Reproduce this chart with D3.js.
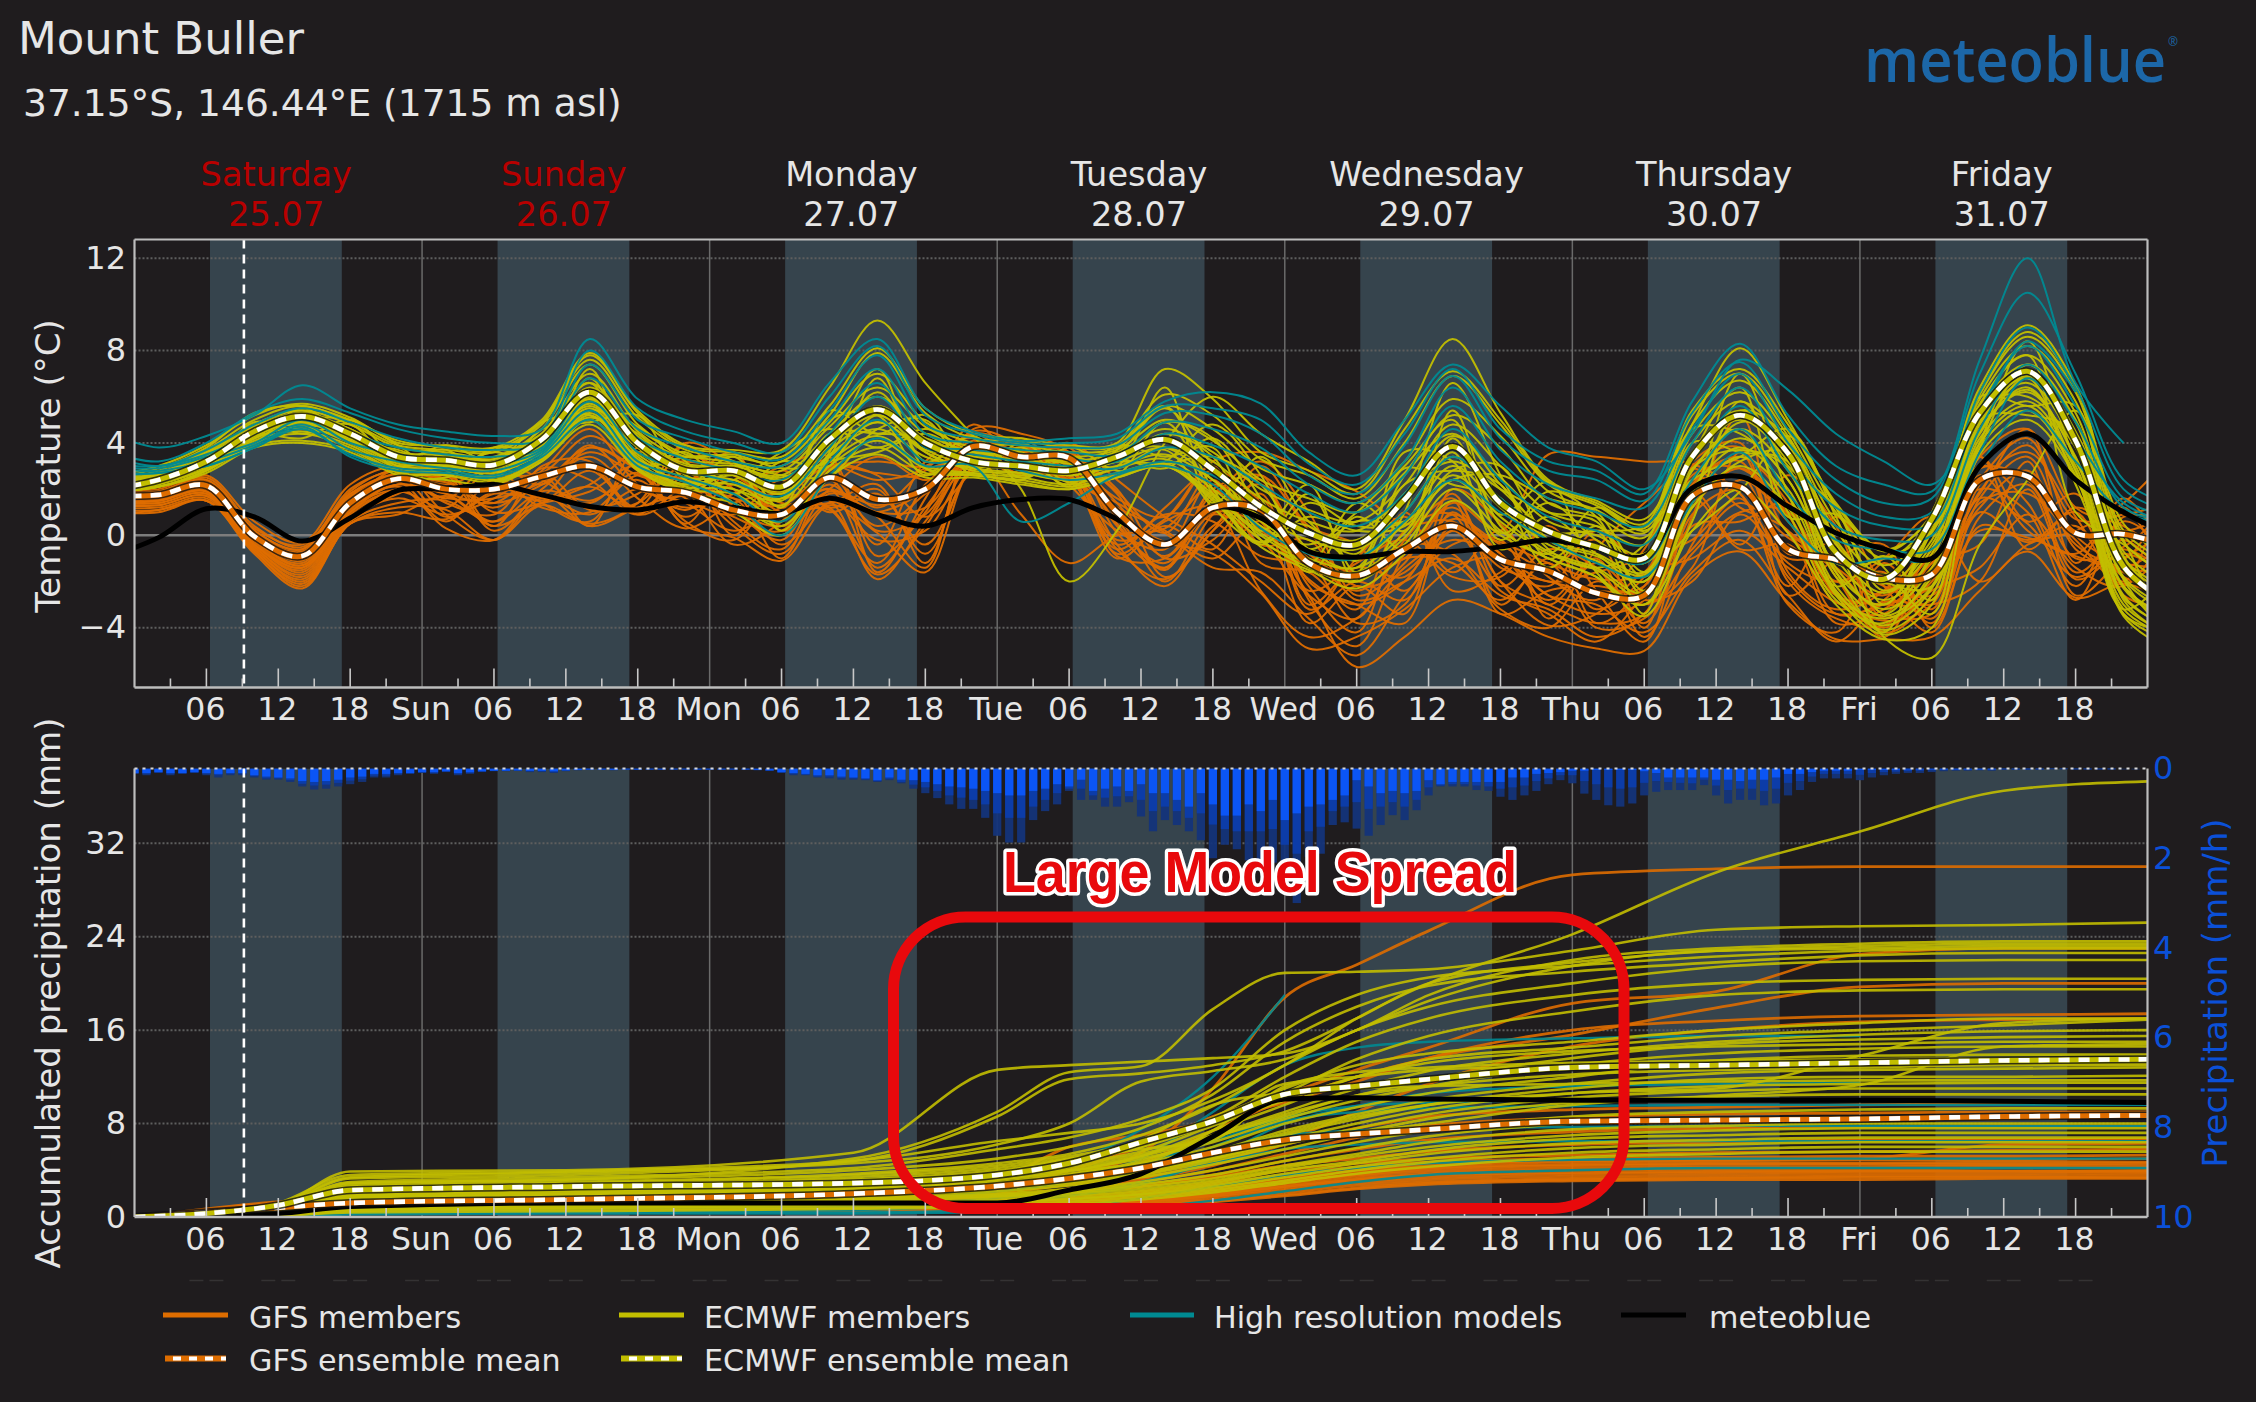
<!DOCTYPE html>
<html><head><meta charset="utf-8">
<script src="https://cdn.jsdelivr.net/npm/d3@7"></script>
<style>
html,body{margin:0;padding:0;background:#1f1c1e;}
svg{display:block;font-family:"DejaVu Sans",sans-serif;}
</style></head><body><svg id="c" width="2256" height="1402"></svg>
<script>
const tempHours=[-2,2,6,10,14,18,22,26,30,34,38,42,46,50,54,58,62,66,70,74,78,82,86,90,94,98,102,106,110,114,118,122,126,130,134,138,142,146,150,154,158,162,166,170];
const tempGfsMean=[1.7,1.75,2.15,-.05,-.9,1.4,2.45,2.0,2.0,2.55,3.0,2.1,1.85,1.1,.9,2.5,1.55,2.0,3.85,3.4,3.35,1.0,-.4,1.2,1.1,-1.2,-1.75,-.6,.4,-1.05,-1.55,-2.5,-2.6,1.7,2.1,-.6,-1.05,-1.85,-1.7,2.4,2.55,.1,.05,-.5];
const tempEcMean=[2.0,2.4,3.2,4.5,5.15,4.4,3.4,3.25,3.05,4.15,6.2,4.0,2.8,2.8,2.1,4.15,5.45,4.0,3.2,3.0,2.8,3.4,4.15,2.85,1.25,.1,-.4,1.55,3.85,1.4,.17,-.5,-1.0,3.4,5.2,3.55,-.75,-1.9,.7,5.3,7.1,4.1,-1.35,-3];
const tempMeteoblue=[-.9,-.1,1.15,.8,-.25,.75,1.95,2.0,2.2,1.75,1.25,1.1,1.45,1.2,.95,1.6,.9,.4,1.2,1.55,1.55,.7,-.4,1.2,.75,-.7,-.95,-.7,-.7,-.5,-.2,-.55,-.9,2.05,2.55,1.25,.1,-.6,-1.0,3.0,4.4,2.4,1.0,0];
const tempGfsMembers=[
[2.0,2.0,2.6,.6,-.3,2.2,3.0,2.4,1.2,2.8,4.6,2.2,1.2,1.8,3.0,3.4,-.9,1.0,4.6,4.4,3.6,.4,-1.2,1.6,3.2,1.0,-2.6,-1.2,1.8,-2.2,-.6,-1.4,-3.8,.8,5.2,-1.6,-3.2,-2.4,.6,3.4,.6,1.8,-1.0,2.2],
[1.9,1.9,2.5,.4,-.5,2.0,2.9,3.2,2.6,1.6,2.2,3.6,2.9,.6,-.6,2.8,3.2,3.0,4.4,3.2,4.0,2.4,.8,-.4,-2.0,-3.4,-1.0,.8,-1.6,.2,-3.6,-.6,1.4,2.9,1.2,.2,-3.8,-3.2,-1.4,1.8,4.6,-1.2,1.6,-1.2],
[1.9,1.8,2.4,.2,-.6,1.9,2.8,1.6,3.2,2.4,1.2,1.8,3.4,2.6,1.4,1.4,2.2,-1.2,3.8,4.0,2.6,-.6,1.2,2.8,1.4,-2.2,-4.2,.2,.9,-3.0,-1.0,-3.2,-1.8,1.9,-.4,2.6,.4,-4.2,-2.6,3.0,1.4,-2.2,.8,.6],
[1.8,1.8,2.3,.1,-.7,1.8,2.7,2.8,.4,3.0,3.2,1.0,2.2,3.6,.2,2.0,3.4,2.4,3.2,3.4,3.2,1.8,-1.8,.2,3.0,.4,-.4,-2.4,.4,-.8,-2.8,-1.0,-4.4,-.4,2.4,.6,-2.0,-1.6,-3.8,2.2,3.6,.8,-2.0,3.4],
[1.8,1.8,2.3,.1,-.8,1.7,2.6,.8,1.8,1.7,3.8,2.8,.6,-.2,2.2,3.2,-1.6,1.6,4.8,3.0,2.4,1.2,.2,-1.0,.6,-3.8,-2.2,-3.4,2.0,.5,-1.8,-2.8,-.6,3.2,4.0,-2.6,-1.0,-.4,-4.0,.8,2.2,-1.6,-.2,-2.2],
[1.7,1.7,2.2,0,-.9,1.6,2.6,2.2,2.8,1.4,.6,3.2,1.6,.9,2.4,1.0,1.8,-.4,3.0,3.8,2.9,-.2,.7,3.0,-1.2,-1.6,-3.2,1.0,-2.4,-1.6,.2,-3.8,-2.2,1.2,2.9,.9,-3.4,-2.8,.2,3.4,-.6,1.2,.2,1.0],
[1.7,1.7,2.1,-.1,-1.1,1.5,2.5,1.4,.9,2.9,2.4,.9,2.8,2.0,-1.0,2.4,-.4,3.2,4.2,2.6,3.6,1.0,-2.0,.9,2.2,-.8,-1.8,-.4,-.8,-3.2,-4.0,-2.0,-3.0,-1.4,3.6,-.8,-.4,-3.6,-2.0,1.2,2.8,-.4,-1.4,-1.6],
[1.6,1.6,2.1,-.2,-1.2,1.4,2.4,2.6,.2,2.0,3.4,1.6,.3,1.4,1.8,1.2,-1.2,2.2,3.6,3.4,3.0,-.8,.4,-.6,2.6,-2.8,-4.8,-.8,1.2,-1.2,-2.2,.2,-1.2,2.4,1.8,-3.0,-4.2,-1.2,-3.2,2.6,.2,-.8,1.2,-2.6],
[1.6,1.6,2.0,-.2,-1.3,1.3,2.3,.6,2.4,1.2,1.0,2.6,1.9,-.4,.6,3.0,2.6,.8,2.8,4.2,2.2,.2,-.6,2.4,-.4,-.2,-2.8,-2.0,-1.0,-2.6,-3.2,-4.4,-3.4,.4,.6,1.4,-1.8,-4.4,-1.2,-.4,3.2,-2.6,-1.0,.2],
[1.5,1.5,1.9,-.3,-1.4,1.2,2.2,1.8,1.4,2.6,.4,3.8,2.4,.4,-.8,1.8,.8,-1.4,4.0,3.1,3.4,2.0,-1.0,-.2,1.8,-3.0,-1.4,-1.8,.7,-.4,-1.4,-.2,-4.0,1.6,-.6,-.4,-2.6,-3.0,-2.8,1.4,1.8,-.2,-2.1,-.4],
[1.5,1.5,1.9,-.4,-1.5,1.1,2.1,.3,-.2,1.9,1.5,2.4,.8,2.2,1.0,1.1,-1.7,.4,3.3,2.8,2.5,-1.0,.6,1.2,-2.4,-4.4,-3.6,-1.4,-.2,-.9,-2.0,-1.6,-1.0,-.2,1.6,-2.2,.8,-2.2,-4.2,.4,-.2,.4,-1.8,-2.4],
[1.4,1.4,1.8,-.4,-1.6,1.0,2.0,2.0,2.2,1.5,2.8,1.2,3.9,1.2,-.2,2.6,1.2,2.8,3.4,3.6,3.8,.7,-1.5,1.9,.2,-1.0,-3.8,-3.0,1.0,-2.0,-3.9,-3.4,-1.6,-1.0,.2,-1.4,-2.9,-3.4,-.6,2.0,1.0,-2.8,.6,-.9],
[1.4,1.4,1.8,-.5,-1.7,.9,1.9,1.2,3.0,2.2,3.9,2.0,1.4,.2,1.2,1.6,-.2,.2,3.1,2.7,2.9,-.4,-2.2,.4,1.2,-2.4,-1.2,-.2,-1.8,-1.8,.4,-2.4,-4.6,.9,2.0,.2,-1.4,-2.6,-.8,2.9,2.4,-1.0,-.5,1.4],
[1.3,1.3,1.7,-.5,-1.8,.8,1.8,2.6,1.0,1.4,1.9,3.0,.5,3.0,.4,2.2,.4,1.8,3.7,3.3,2.3,1.4,.1,-1.4,-1.6,-3.6,-5.2,-2.6,-.4,-.2,-3.0,-1.2,-2.8,-2.0,.9,-1.0,-.9,-2.0,-3.6,1.6,3.4,-.6,-1.6,-3.0],
[1.3,1.3,1.7,-.6,-1.9,.7,1.6,.9,1.6,2.7,1.1,1.4,3.0,.0,2.8,1.2,2.0,-.8,2.9,3.0,3.5,.1,-1.4,2.0,2.4,-2.0,-3.0,-3.8,1.5,-3.4,-2.4,-2.2,-2.4,2.2,3.2,-2.0,-3.6,-3.9,-1.8,2.4,4.2,.0,-1.2,-1.4],
[1.2,1.2,1.6,-.6,-2.0,.6,1.4,1.5,.6,2.5,3.0,.9,1.8,1.6,-.4,1.4,1.0,2.0,4.5,3.9,2.7,-.4,.9,.6,-.9,-1.2,-2.4,-1.0,-1.2,-2.8,-1.2,-4.0,-3.6,-.8,1.0,1.0,-2.4,-4.0,-2.4,-1.4,.9,-1.4,-2.2,.5],
[1.1,1.1,1.5,-.7,-2.1,.5,1.2,1.1,-.2,1.6,.9,2.0,1.1,2.4,.8,2.0,-1.4,1.2,3.5,2.5,3.2,-.9,-1.0,1.0,.4,-2.6,-5.7,-4.4,-2.8,-3.4,-4.4,-4.9,-5.0,-1.8,-.7,-2.9,-4.5,-4.5,-4.4,-2.4,-.7,-2.7,-2.1,-2.9],
[1.0,1.0,1.5,-.7,-2.2,.5,1.0,.7,1.9,1.8,1.4,2.7,.4,-.1,-1.1,1.3,.1,-1.6,3.0,3.5,2.8,.9,-.3,-.8,-2.5,-4.9,-4.4,-3.2,-1.4,-1.0,-2.6,-3.0,-4.2,-1.6,-.2,-2.6,-4.6,-2.9,-3.0,-2.0,2.0,-1.9,-.8,-1.8],
[.9,1.1,1.5,-.8,-2.3,.5,.9,1.7,.4,1.4,2.1,1.1,2.5,1.0,1.6,1.5,-1.9,.6,3.2,2.9,2.4,-.6,-1.9,.2,1.6,-3.2,-2.0,-2.8,.2,-2.4,-3.4,-4.6,-2.6,-.6,1.4,-.1,-1.5,-3.4,-3.4,1.0,-.3,1.0,-2.6,-3.2],
[1.6,1.6,2.0,-.1,-1.0,1.4,2.8,.9,-.2,1.3,.5,1.4,4.0,3.0,1.2,2.0,1.0,1.2,3.4,.9,-1.2,0,.3,2.2,1.0,-.8,-1.6,-1.0,1.4,.2,3.5,3.4,3.2,3.1,1.8,-1.2,-2.0,-1.0,.8,-2.0,-.4,.2,1.4,3.5],
[1.5,1.6,2.1,-.2,-1.3,1.2,2.0,1.8,.6,1.8,.4,1.2,1.7,1.0,.4,1.9,1.3,1.9,3.7,3.2,3.1,1.6,.8,3.2,3.6,2.8,1.9,.5,.6,-1.4,-2.0,-2.4,-2.2,2.6,2.9,.9,-2.6,-3.7,-3.0,1.6,.5,-1.8,-.6,-1.8],
[1.7,1.8,2.3,.2,-.6,1.7,2.4,2.3,1.4,2.2,3.6,2.6,2.0,.8,.2,2.9,2.7,2.6,4.1,3.6,3.3,1.4,-.9,1.8,2.6,.2,-2.2,-1.6,.2,-.3,-1.2,-1.9,-1.6,3.0,3.8,.1,-1.0,-2.2,-2.6,.2,-.1,-.9,-1.4,-.2],
[1.4,1.5,1.9,-.4,-1.4,1.0,2.2,1.6,1.6,2.3,3.8,2.9,2.4,1.6,1.3,2.6,.2,.9,3.6,3.3,3.4,.5,-1.4,.9,-.2,-2.6,-3.6,-.2,1.6,-2.0,-3.0,-3.8,-3.4,1.4,2.6,-1.8,-3.4,-3.0,-2.2,1.9,3.9,.7,.9,1.4],
[1.8,1.9,2.4,.3,-.4,1.8,2.6,2.5,2.6,2.7,4.3,3.1,3.2,2.8,1.8,3.0,2.4,2.9,4.4,3.9,3.6,1.9,.1,2.7,.6,-1.9,-3.0,-2.0,.9,-.8,-2.6,-3.4,-2.8,2.2,3.4,1.4,-2.9,-2.4,-1.2,3.4,4.6,1.2,.4,-1.0]
];
const tempEcMembers=[
[2.6,3.0,3.9,5.2,5.7,5.1,4.0,3.9,3.8,5.0,7.9,5.4,3.9,3.7,3.7,6.4,9.3,6.6,4.3,2.0,-2.0,.2,4.0,6.0,4.4,3.2,2.0,5.0,8.5,5.3,2.4,1.5,.7,4.8,8.1,5.0,1.4,-.6,.8,6.4,9.1,6.5,.5,-1.0],
[2.5,2.9,3.8,5.3,5.6,5.0,4.1,3.8,3.7,4.9,7.8,5.3,3.8,3.6,3.4,5.6,8.1,5.5,4.4,4.2,3.9,4.0,7.2,5.9,3.6,2.8,1.8,4.6,7.1,5.0,2.3,1.4,.5,5.4,7.2,4.8,1.3,-.7,.9,6.2,8.8,6.4,.2,-1.2],
[2.4,2.8,3.7,5.0,5.6,4.9,3.9,3.7,3.6,4.8,7.6,5.1,3.7,3.4,3.2,5.2,7.9,5.3,4.2,4.1,3.8,3.9,6.1,5.2,3.3,2.6,1.6,4.0,6.9,4.8,2.2,1.3,.3,5.2,7.0,4.5,1.0,-1.0,.7,6.1,8.6,6.2,0,-1.4],
[2.4,2.7,3.5,4.8,5.4,4.4,3.2,3.9,3.2,4.9,5.2,3.4,2.2,3.4,1.2,5.4,4.4,5.2,2.9,3.8,2.3,3.7,5.6,2.0,-.3,1.8,-1.6,3.6,3.2,-.2,1.9,.8,-2.6,1.4,7.0,1.8,-2.2,-.9,-2.8,6.0,5.6,5.6,-2.8,-4.4],
[2.3,2.7,3.6,4.8,5.4,4.8,3.8,3.6,3.4,4.6,7.4,4.8,3.5,3.2,3.0,4.9,7.0,4.9,4.0,3.9,3.6,3.8,5.6,4.6,2.9,2.2,1.4,3.2,5.9,4.3,1.9,1.1,.1,4.8,6.7,4.3,.6,-1.3,.4,5.9,8.2,5.8,-.3,-1.8],
[2.1,2.5,3.6,4.2,5.0,5.0,3.9,2.6,3.7,3.5,7.2,3.0,3.6,1.8,3.2,3.0,6.8,3.2,4.3,2.5,3.8,2.8,3.2,4.8,2.6,-1.2,1.4,.2,5.4,.4,-.8,1.2,.2,2.4,3.4,4.6,.8,-3.4,-.8,4.0,8.4,3.2,-.2,-4.8],
[2.2,2.6,3.4,4.7,5.3,4.6,3.6,3.5,3.3,4.4,7.0,4.5,3.3,3.1,2.8,4.7,6.4,4.7,3.8,3.7,3.4,3.7,5.0,4.1,2.4,1.6,1.0,2.7,5.2,3.8,1.4,.8,-.1,4.4,6.2,4.1,.2,-1.7,.1,5.7,7.8,5.3,-.7,-2.2],
[2.3,2.6,3.0,4.9,4.4,4.8,3.0,3.5,2.5,4.6,4.9,5.2,2.4,2.4,3.6,4.6,3.8,4.6,3.6,3.4,2.2,3.9,3.4,3.8,.2,2.2,-2.0,1.0,6.6,2.6,-.6,-1.4,-.4,4.6,4.4,2.4,-1.6,-4.2,1.0,4.6,6.4,2.8,-3.2,-1.6],
[2.1,2.5,3.3,4.6,5.2,4.5,3.5,3.4,3.2,4.3,6.6,4.3,3.1,3.0,2.6,4.4,6.0,4.4,3.6,3.5,3.2,3.6,4.6,3.6,2.0,1.1,.6,2.2,4.8,3.0,1.0,.4,-.4,4.0,5.8,3.9,-.2,-2.1,-.2,5.5,7.4,4.9,-1.1,-2.6],
[2.0,2.2,3.4,4.0,5.5,4.1,3.7,3.0,3.6,3.3,5.8,4.6,3.2,1.4,.6,3.6,7.2,2.9,2.7,2.4,3.4,3.0,6.4,1.4,3.4,.6,-.8,2.9,2.2,1.6,-1.4,.4,-1.8,3.4,6.4,.8,.9,-1.4,-3.4,5.6,7.8,1.0,-.4,-2.0],
[2.0,2.4,3.2,4.5,5.1,4.4,3.4,3.2,3.0,4.1,6.2,4.0,2.9,2.8,2.2,4.1,5.6,4.2,3.4,3.3,3.0,3.4,4.2,3.2,1.6,.6,.2,1.8,4.3,2.5,.6,0,-.8,3.6,5.4,3.6,-.6,-2.5,-.6,5.3,7.1,4.5,-1.5,-3.0],
[1.9,2.3,2.9,4.7,4.8,4.6,2.8,2.5,3.8,3.8,6.8,2.9,2.0,3.0,2.6,2.6,4.6,5.0,2.6,4.0,2.6,3.3,2.9,4.2,1.6,-1.6,.8,-.6,4.2,.9,2.3,-1.6,-3.0,.6,5.8,3.0,1.2,-3.0,.4,5.0,5.2,4.4,-3.4,-4.2],
[2.0,2.3,3.1,4.4,5.0,4.3,3.3,3.1,2.9,3.9,5.9,3.8,2.7,2.6,1.8,3.9,5.2,3.9,3.2,3.1,2.8,3.2,3.8,2.8,1.2,.2,-.2,1.4,3.8,2.0,.2,-.4,-1.2,3.2,5.0,3.2,-1.0,-2.8,-1.0,5.1,6.8,4.2,-1.9,-3.4],
[2.2,2.4,3.7,4.4,4.2,5.0,3.4,3.7,2.4,3.4,5.4,4.4,2.6,2.0,1.6,5.0,5.2,2.6,3.9,2.9,2.4,2.6,4.9,1.8,-.4,1.4,.4,.6,3.6,-.6,.8,-.8,-2.0,2.8,4.6,1.0,-2.8,-3.8,-1.6,3.8,7.4,5.0,-1.0,-2.4],
[1.9,2.3,3.0,4.3,4.9,4.1,3.1,3.0,2.8,3.7,5.7,3.5,2.5,2.4,1.6,3.7,4.9,3.7,3.0,2.9,2.6,3.0,3.5,2.4,.8,-.2,-.6,1.0,3.4,1.6,-.2,-.8,-1.6,2.8,4.6,2.8,-1.4,-3.2,-1.4,4.9,6.6,3.8,-2.3,-3.8],
[2.0,2.4,3.0,4.2,5.3,4.2,3.6,2.9,2.6,4.4,6.6,3.0,3.4,3.2,.2,3.4,6.2,3.6,2.9,2.6,3.0,3.2,3.1,3.4,2.2,-.6,-1.4,2.2,2.8,2.2,-1.0,.2,-3.4,4.0,3.6,3.2,-1.2,-1.0,.2,4.4,6.8,2.2,-2.2,-3.8],
[1.9,2.2,2.9,4.2,4.7,4.0,3.0,2.9,2.7,3.6,5.5,3.3,2.3,2.2,1.3,3.5,4.6,3.4,2.9,2.7,2.4,2.9,3.3,2.0,.4,-.6,-1.0,.5,3.0,1.2,-.4,-1.1,-2.0,2.4,4.2,2.4,-1.8,-3.5,-1.8,4.6,6.2,3.4,-2.6,-4.1],
[2.2,2.6,3.4,4.6,4.6,4.2,3.3,3.4,3.0,3.6,5.1,3.8,1.9,2.8,2.4,3.2,3.6,4.4,3.4,3.6,2.1,3.5,3.8,2.4,.6,-.4,1.0,3.0,5.0,.1,1.4,-.2,-1.2,1.8,5.4,4.2,-.4,-2.0,-2.2,5.6,6.0,3.8,-1.8,-3.2],
[1.9,2.1,2.8,4.1,4.5,3.9,2.9,2.7,2.5,3.4,5.3,3.1,2.1,2.0,1.0,3.2,4.3,3.0,2.7,2.5,2.2,2.7,3.1,1.8,.1,-1.0,-1.4,.1,2.6,.8,-.7,-1.4,-2.5,2.0,3.8,2.0,-2.2,-3.9,-2.3,4.2,5.8,3.0,-3.0,-4.3],
[1.9,2.1,2.8,4.0,4.4,3.8,2.8,2.7,2.4,3.3,5.2,3.0,2.0,1.8,.8,3.0,4.1,2.9,2.6,2.4,2.1,2.6,3.0,1.7,0,-1.2,-1.6,-.1,2.4,.6,-.8,-1.5,-2.7,1.6,3.4,1.7,-2.4,-4.1,-2.6,4.0,5.6,2.8,-3.2,-4.4],
[1.9,2.1,2.8,3.9,4.1,3.7,2.7,2.6,2.3,3.2,5.0,2.9,1.9,1.4,.4,2.8,3.8,2.7,2.6,2.3,2.0,2.5,3.0,1.6,-.2,-1.4,-2.0,-.4,2.0,.2,-1.0,-1.8,-3.0,1.2,3.0,1.2,-2.6,-4.3,-3.0,3.8,5.4,2.6,-3.4,-4.6],
[1.9,2.1,2.7,3.8,4.0,3.6,2.6,2.4,2.2,3.2,4.8,2.8,1.8,1.0,0,2.5,3.5,2.5,2.5,2.2,2.0,2.5,3.0,1.5,-.5,-1.5,-2.3,-.8,1.5,0,-1.0,-1.8,-3.5,.2,2.0,.1,-3.0,-4.5,-4.0,3.5,5.0,2.5,-3.5,-5.0],
[2.0,2.3,2.9,4.4,4.8,4.3,3.2,3.1,2.8,3.8,5.6,3.6,2.7,2.4,1.5,4.4,4.4,4.2,3.3,3.1,2.9,3.2,4.4,3.4,-.2,-1.2,-1.9,1.8,3.2,2.0,1.0,.6,-2.4,1.2,3.2,3.6,-.3,-4.4,-5.3,-.4,2.4,5.4,-1.9,-4.4],
[2.2,2.6,3.3,4.6,5.2,4.6,3.5,3.4,3.3,4.4,5.9,4.7,3.4,3.5,2.9,3.2,5.2,3.7,3.6,3.5,3.1,3.3,4.9,4.2,1.1,-.6,.6,.6,2.4,2.6,1.6,1.0,-1.6,.2,1.9,4.3,1.2,-2.4,-.4,4.8,6.9,4.4,-.9,-3.4],
[2.1,2.5,3.2,4.5,5.0,4.2,3.3,3.1,2.9,4.0,6.4,4.2,3.0,3.0,2.5,3.9,5.5,4.2,3.1,2.9,2.7,3.5,5.5,3.0,.7,.4,-1.1,2.6,4.4,2.2,.2,.2,.4,2.4,4.9,3.9,-1.6,-3.0,.2,5.2,7.2,3.9,-2.2,-3.6],
[2.0,2.4,3.1,4.3,4.9,4.1,3.2,3.0,2.8,3.6,6.0,3.2,2.2,2.6,1.9,3.4,4.9,3.6,2.8,2.7,2.4,2.9,3.7,1.2,-.3,.8,.2,.4,2.8,3.0,-.2,-.9,-1.7,2.9,3.7,2.9,-2.5,-3.6,-2.2,4.5,6.3,3.3,-2.7,-4.0]
];
const tempHiresMembers=[
[4.4,3.8,4.3,5.2,6.5,5.5,4.8,4.5,4.3,4.6,8.5,5.9,5.0,4.5,4.0,6.6,8.5,5.5,4.5,4.1,4.2,4.4,5.8,6.2,5.7,3.6,2.6,5.0,7.4,5.6,3.8,3.2,2.0,4.4,7.6,6.3,4.4,3.2,2.2,5.2,8.4,6.2,null,null],
[3.6,3.2,4.0,5.3,5.9,5.3,4.6,4.2,4.0,4.2,8.0,5.5,4.5,4.0,3.6,6.0,8.2,5.2,4.4,4.0,4.0,4.2,5.6,5.5,5.0,3.1,2.2,4.4,7.2,4.6,3.2,2.8,1.8,5.8,8.3,5.2,3.0,2.2,1.9,7.6,12,6.6,4.0,null],
[3.4,3.0,3.7,4.8,5.5,4.9,4.2,3.8,3.7,4.0,7.4,5.0,4.2,3.6,3.3,5.4,7.8,4.8,4.2,3.9,3.8,3.9,5.3,5.2,4.4,2.6,1.8,3.9,6.9,4.2,2.8,2.4,1.5,5.3,7.5,4.6,2.4,1.4,1.6,7.0,10.5,7.0,2.4,1.3],
[3.1,3.0,3.5,4.4,5.2,4.4,3.8,3.5,3.4,3.8,6.8,4.6,3.8,3.2,3.0,5.0,7.2,4.4,4.0,3.7,3.6,3.5,4.9,4.6,3.8,2.2,1.4,3.2,6.4,3.7,2.2,1.6,1.2,4.6,7.0,4.0,1.8,.8,1.0,6.2,9.0,6.4,2.0,1.0],
[3.0,2.9,3.4,4.0,5.0,4.0,3.5,3.2,3.1,3.7,6.2,4.2,3.3,2.8,2.4,4.4,6.6,4.0,3.7,3.5,3.3,3.2,4.4,3.9,3.0,1.8,1.0,2.6,5.6,3.2,1.6,1.0,.4,4.0,6.4,3.4,1.2,.4,.5,5.4,8.2,5.6,1.6,.8],
[2.9,2.8,3.2,3.9,4.8,3.7,3.2,2.9,2.8,3.6,5.8,3.6,2.8,2.3,1.7,3.8,6.0,3.8,3.5,3.2,3.0,2.9,3.8,3.4,2.2,1.0,.4,1.8,4.6,2.4,.8,.2,-.4,3.2,5.6,2.8,.4,-.2,0,4.6,7.4,4.9,1.2,.6],
[2.7,2.7,3.0,3.8,4.6,3.5,2.9,2.8,2.6,3.5,5.4,3.2,2.5,1.8,.6,3.2,5.0,3.2,3.3,2.8,2.4,2.7,3.2,2.6,1.2,.2,-.4,1.0,3.4,1.6,.1,-.6,-1.2,2.4,4.6,1.8,-.2,-.6,-.6,3.6,6.8,4.2,1.4,.5],
[2.6,2.7,3.0,3.8,4.7,3.4,2.8,2.7,2.5,3.4,5.0,3.0,2.3,1.4,0,2.6,4.2,3.0,3.0,.6,1.4,2.6,3.0,2.2,.3,-.8,-1.0,.6,2.4,1.0,-.2,-1.2,-1.8,1.4,3.6,.6,-1.2,-1.0,-1.0,3.0,5.4,3.2,1.0,.5]
];
const precipHours=[0,6,12,18,36,60,72,78,84,90,96,102,108,120,132,144,156,168];
const precipGfsMean=[0,.4,.8,1.2,1.5,2,2.65,3.3,4.2,5.5,6.6,7.1,7.5,8.2,8.3,8.4,8.6,8.7];
const precipEcMean=[0,.3,1,2.3,2.6,2.9,3.6,4.6,6.4,8.2,10.5,11.2,11.8,12.8,13,13.2,13.4,13.5];
const precipMeteoblue=[0,.1,.3,.9,1.2,1.2,1.2,2.3,3.7,6.9,10.1,10.2,10.1,10,10,10,9.9,9.8];
const precipEcMembers=[
[0,.3,1.2,3.6,3.9,4.8,6.5,7.2,8,10,13,17,20,24.2,29.5,33,36.5,37.3],
[0,.3,1,2.9,3.2,5,9,12.4,12.9,17.8,20.9,21,21.2,22.8,24.6,24.9,25,25.2],
[0,.3,1,3.9,4,5.5,12.6,13,13.3,13.6,14,16,19,22,23,23.4,23.6,23.6],
[0,.2,.9,3.3,3.6,4.8,8.6,11.8,12.3,13,14.2,17,20,21.8,22.8,23.2,23.4,23.4],
[0,.2,1,3.4,3.8,4.6,6.2,8,11.6,12.5,13.5,16,18.5,21.5,22.8,23,23.2,23.2],
[0,.2,.9,3,3.4,4.2,5.8,6.8,8.4,11,16,19,20.5,21.5,22.3,22.8,23,23],
[0,.2,.8,2.8,3.2,4,5,6,7.6,10.5,15,18,19.8,21,21.8,22.4,22.6,22.6],
[0,.2,.8,2.6,3,3.7,4.6,5.4,7,9.5,13,16,18,20,21.4,21.9,22,22],
[0,.2,.7,2.6,2.9,3.6,4.4,5.2,6.4,8.5,12,15,17,19,20,20.3,20.4,20.4],
[0,.2,.7,2.4,2.7,3.4,4.2,5,6,8,10.6,13.5,15.5,17.6,19,19.4,19.5,19.5],
[0,.1,.6,2.3,2.6,3.2,4,4.8,6,8.4,11,13,14,15,16,16.6,17,17],
[0,.1,.6,2.2,2.5,3.1,3.8,4.6,5.6,7.8,10,12,13.5,14.5,15.5,16,16.4,16.9],
[0,.1,.6,2.1,2.4,2.9,3.6,4.4,5.4,7,9,11,12.5,14,15,15.6,15.9,16],
[0,.1,.5,2,2.3,2.8,3.4,4.2,5.2,6.8,8.8,10.4,11.8,13.6,14.8,15.2,15.4,15.5],
[0,.1,.5,1.9,2.2,2.6,3.2,4,5,6.4,8.4,10,11.2,13,14,14.4,14.6,14.6],
[0,.1,.5,1.8,2,2.5,3,3.7,4.6,6,8,9.4,10.6,12,13.4,13.8,13.9,13.9],
[0,.1,.5,1.7,1.9,2.4,2.9,3.4,4.4,5.6,7.4,8.8,10,11.4,12.3,12.6,12.7,12.8],
[0,.1,.4,1.6,1.8,2.2,2.7,3.2,4,5.2,7,8.4,9.6,11,11.8,12,12,12.1],
[0,.1,.4,1.5,1.7,2.1,2.5,3,3.8,5,6.6,8,9.2,10.6,11.2,11.4,11.5,11.5],
[0,.1,.4,1.4,1.6,2,2.4,2.9,3.6,4.8,6.2,7.6,8.8,10.2,10.8,11,11,11],
[0,.1,.3,1.3,1.5,1.9,2.2,2.7,3.4,4.5,5.8,7.2,8.4,9.8,10.3,10.5,10.5,10.5],
[0,.1,.3,1.2,1.4,1.7,2,2.4,3,4,5.2,6.4,7.4,8.6,9,9.2,9.3,9.3],
[0,.1,.3,1.1,1.3,1.6,1.9,2.2,2.8,3.6,4.8,5.9,6.9,8,8.4,8.5,8.6,8.6],
[0,.1,.3,1,1.2,1.5,1.8,2.1,2.6,3.3,4.4,5.4,6.4,7.5,7.8,8,8,8],
[0,.1,.2,.9,1.1,1.4,1.7,2,2.4,3.1,4.2,5.2,6,7,7.4,7.6,7.6,7.6],
[0,0,.2,.8,1,1.2,1.5,1.8,2.2,2.9,4,4.8,5.7,6.7,7,7.2,7.2,7.2],
[0,0,.2,.7,.9,1.1,1.3,1.6,2,2.7,3.7,4.6,5.4,6.3,6.6,6.8,6.8,6.8],
[0,0,.2,.6,.8,1,1.2,1.5,1.9,2.5,3.4,4.3,5,5.9,6.2,6.4,6.4,6.4],
[0,0,.1,.5,.7,.8,1,1.3,1.7,2.3,3.1,4,4.7,5.5,5.8,6,6,6],
[0,0,.1,.4,.5,.7,.9,1.1,1.5,2.1,2.9,3.7,4.3,5.1,5.4,5.6,5.6,5.6],
[0,.1,.5,1.8,2,2.4,2.8,3.4,4.2,5.4,7.2,8.6,9.6,10.6,11,13.8,16.6,17],
[0,.1,.4,1.4,1.7,2.1,2.5,3.1,4,5,6.4,7.2,8,9.6,10.4,11.3,14.6,14.8],
[0,.2,.6,2,2.3,2.7,3.2,3.9,5.2,7.4,9.6,12,13.2,14.2,14.6,14.8,15,15],
[0,.1,.4,1.6,1.9,2.3,2.8,3.6,4.8,6.8,8.6,10.4,11.2,12.2,12.6,12.8,13,13],
[0,.2,.7,2.5,2.8,3.2,3.6,4,4.6,7.4,11.4,12,12.6,12.9,13,13.2,13.2,13.2],
[0,.1,.6,2.2,2.4,2.8,3.4,4.4,6.6,9.6,10.6,11,11.2,11.4,11.6,11.7,11.7,11.7],
[0,.1,.5,1.9,2.2,2.6,3.8,5,5.8,6.6,11.2,12.4,12.8,13.2,13.4,13.5,13.6,13.6]
];
const precipGfsMembers=[
[0,.6,1.2,1.4,1.5,2,2.8,3.6,5.5,11,18.8,21.6,24.5,29.3,29.8,30,30,30],
[0,.5,1.1,1.3,1.4,1.9,2.6,4,6,8.6,10.5,12.6,14.5,18.3,19.3,22.5,23,23],
[0,.7,1.3,1.5,1.6,2,2.4,3.3,4.6,7.4,10,12,13.6,15.6,17.9,19.7,20,20],
[0,.5,1,1.2,1.3,1.6,3.2,6,7,8.2,9.8,11.6,13.6,16,16.8,17.2,17.3,17.4],
[0,.4,.9,1.1,1.2,1.5,2,2.8,3.4,4.6,6.5,9,11.4,14.6,16,16.7,16.9,17],
[0,.4,.8,1,1.2,1.4,1.8,2.4,3.2,4.4,6.2,7.6,8.6,9.2,9.4,9.6,9.7,9.8],
[0,.4,.8,1,1.1,1.3,1.7,2.2,3,4,5.4,6.8,7.8,8.5,8.8,8.9,9,9],
[0,.3,.7,.9,1,1.2,1.5,2,2.7,3.6,4.8,5.8,6.6,7.3,7.6,7.7,7.8,7.8],
[0,.3,.6,.8,.9,1,1.3,1.7,2.2,3,4,4.6,5,5.3,5.5,5.6,5.7,5.8],
[0,.3,.6,.8,.9,1,1.2,1.5,2,2.7,3.6,4.3,4.7,5,5.1,5.2,5.2,5.3],
[0,.2,.5,.7,.8,.9,1.1,1.4,1.9,2.5,3.3,4,4.4,4.7,4.8,4.9,4.9,5],
[0,.2,.5,.7,.8,.9,1,1.3,1.8,2.4,3.1,3.8,4.2,4.5,4.6,4.6,4.7,4.7],
[0,.2,.4,.6,.7,.8,.9,1.2,1.6,2.2,2.9,3.5,3.9,4.2,4.3,4.3,4.4,4.4],
[0,.2,.4,.5,.6,.7,.8,1,1.4,2,2.7,3.3,3.7,4,4.1,4.1,4.2,4.2],
[0,.1,.3,.5,.6,.7,.8,1,1.3,1.8,2.5,3.1,3.4,3.7,3.8,3.9,3.9,4],
[0,.1,.3,.4,.5,.6,.7,.9,1.2,1.7,2.3,2.9,3.2,3.5,3.6,3.7,3.7,3.8],
[0,.1,.2,.4,.5,.6,.7,.9,1.1,1.5,2.1,2.7,3,3.3,3.4,3.5,3.5,3.6],
[0,.1,.2,.3,.4,.5,.6,.8,1,1.4,1.9,2.5,2.9,3.2,3.3,3.4,3.4,3.4],
[0,.1,.2,.3,.4,.5,.6,.7,.9,1.3,1.8,2.4,2.8,3.1,3.2,3.2,3.3,3.3],
[0,.3,.6,.9,1,1.2,1.6,2.4,3.6,5,6.4,7.2,7.8,8,8.2,8.3,8.4,8.6],
[0,.2,.5,.8,.9,1.1,1.4,2,2.6,3.4,4.4,5,5.6,6.2,6.4,6.6,6.6,6.7],
[0,.2,.4,.7,.8,.9,1,1.4,2,2.8,3.6,4.2,4.6,4.8,4.9,5,6.2,6.3],
[0,.2,.4,.6,.7,.8,.9,1.2,1.6,2.2,3,3.6,4.1,4.4,4.5,4.5,4.5,4.6],
[0,.1,.3,.5,.6,.7,.8,1,1.3,1.9,2.6,3.2,3.6,3.8,3.9,3.9,3.9,3.9]
];
const precipHiresMembers=[
[0,.1,.3,1.4,1.6,1.9,2.6,3.2,5,9,13,14.5,15,15.3,15.5,15.5,null,null],
[0,.1,.2,.9,1,1.3,2.2,3,4.5,6.5,8.5,9.5,9.8,10,10,10,null,null],
[0,0,.3,1,1.4,1.8,3.2,4.6,7.5,12,19,null,null,null,null,null,null,null],
[0,0,.1,.3,.4,.6,1.2,2,3.6,6,8.2,9,9.3,9.5,9.6,9.6,9.6,9.6],
[0,.1,.2,.7,.9,1.1,1.6,2.4,3.8,5.6,7,7.4,7.6,7.7,7.8,7.8,7.8,7.8],
[0,0,.1,.5,.7,.9,1.3,1.8,3,4.6,5.8,6.2,6.4,6.5,6.5,6.5,6.5,6.5],
[0,0,.1,.3,.4,.4,.6,.9,1.6,2.6,3.6,4.2,4.6,4.9,5,5,5,5],
[0,0,0,.2,.3,.3,.4,.5,.8,1.4,2.2,3,3.6,4,4.2,4.2,4.2,4.2],
[0,0,.1,.6,.8,1,1.3,1.8,2.8,5,8,9.5,10.6,11.2,11.4,11.5,null,null]
];
const rainBright=[.1,.1,.08,.1,.1,.08,.1,.12,.1,.1,.15,.18,.2,.22,.28,.3,.28,.25,.2,.18,.12,.12,.1,.1,.08,.08,.06,.1,.08,.06,.05,.05,.04,.05,.05,.06,.04,.03,.02,.02,.03,.02,.02,.02,.02,.02,.02,.02,.02,.02,.02,.02,.03,.04,.08,.1,.12,.15,.15,.18,.2,.22,.26,.2,.25,.26,.3,.35,.4,.42,.45,.5,.55,.6,.6,.5,.45,.35,.4,.25,.5,.45,.4,.5,.35,.55,.55,.7,.85,.55,.8,1.05,1.05,.8,.95,.7,1.15,1,.85,.8,.7,.6,.26,.4,.55,.5,.55,.5,.26,.35,.3,.3,.3,.3,.3,.2,.2,.12,.1,.08,.05,.05,.03,.03,.03,.03,.06,.1,.2,.2,.2,.2,.25,.25,.28,.25,.25,.2,.12,.12,.08,.05,.05,.05,.03,.03,.03,.03,.02,.02,.02,.02,.02,.02,.02,.02,.01,.01,.01,.01,.01,.01,.01,.01,.01,.01];
const rainMiddle=[.11,.12,.09,.12,.11,.09,.12,.15,.12,.12,.17,.22,.22,.26,.34,.38,.36,.32,.27,.24,.16,.16,.12,.11,.09,.1,.07,.12,.1,.07,.05,.05,.05,.06,.06,.08,.05,.03,.03,.03,.03,.02,.03,.02,.02,.02,.02,.02,.02,.02,.02,.02,.03,.05,.09,.12,.14,.18,.18,.21,.22,.24,.28,.23,.3,.36,.42,.5,.6,.65,.7,.8,1,1.1,1.1,.85,.7,.55,.45,.45,.6,.65,.62,.62,.7,.95,.85,.95,1.1,1.0,1.25,1.35,1.4,1.4,1.4,1.35,1.7,1.9,1.4,1.3,.95,.85,.75,.9,.85,.75,.85,.7,.42,.38,.35,.35,.38,.4,.45,.42,.38,.28,.22,.15,.15,.28,.35,.42,.45,.42,.32,.28,.3,.32,.33,.25,.38,.48,.45,.45,.5,.45,.32,.28,.18,.12,.12,.12,.14,.1,.08,.07,.06,.05,.04,.03,.03,.03,.02,.03,.02,.02,.02,.02,.01,.01,.02,.02,.01,.01];
const rainTotal=[.12,.15,.1,.15,.12,.1,.15,.2,.15,.15,.2,.25,.25,.3,.4,.47,.45,.4,.35,.3,.2,.2,.15,.12,.1,.12,.08,.15,.12,.08,.06,.06,.05,.08,.08,.1,.06,.04,.03,.03,.04,.02,.03,.02,.03,.02,.02,.02,.03,.03,.02,.03,.04,.05,.1,.15,.15,.2,.22,.25,.25,.26,.3,.26,.33,.45,.55,.66,.8,.9,.9,1.1,1.5,1.65,1.65,1.15,.95,.8,.5,.7,.7,.85,.85,.75,1.07,1.4,1.15,1.26,1.4,1.6,2,1.7,1.8,2.05,2.05,2.1,2.4,3,1.97,1.9,1.26,1.2,1.34,1.5,1.26,1.04,1.15,.93,.6,.4,.4,.4,.48,.5,.63,.7,.6,.5,.35,.26,.33,.56,.7,.82,.85,.78,.6,.52,.48,.48,.48,.37,.6,.78,.7,.7,.82,.78,.6,.48,.3,.22,.22,.22,.26,.2,.15,.12,.1,.1,.08,.06,.05,.05,.04,.05,.03,.03,.03,.03,.02,.02,.02,.02,.03,.03,.02,.02];
const dayNames=["Saturday","Sunday","Monday","Tuesday","Wednesday","Thursday","Friday"];
const dayDates=["25.07","26.07","27.07","28.07","29.07","30.07","31.07"];
const dayShort=["Sat","Sun","Mon","Tue","Wed","Thu","Fri"];
const tempTicks=[-4,0,4,8,12];
const precipTicks=[0,8,16,24,32];
const rainTicks=[0,2,4,6,8,10];
const legendEntries=[["GFS members",0,0,"gfs"],["GFS ensemble mean",0,1,"gfsMean"],["ECMWF members",1,0,"ec"],["ECMWF ensemble mean",1,1,"ecMean"],["High resolution models",2,0,"hr"],["meteoblue",3,0,"mb"]];

const C={bg:"#1f1c1e",band:"#36444d",gfs:"#de6d00",ec:"#c2be00",hr:"#008a92",rain:"#0b55f5",axisBlue:"#0b50d8",txt:"#e6e6e6",red:"#e8090c"};
const svg=d3.select("#c");
const L=134.5,R=2147.5;
const x=d3.scaleLinear().domain([0,168]).range([L,R]);
const yT=d3.scaleLinear().domain([-6.59,12.81]).range([687.5,239.5]);
const yP=d3.scaleLinear().domain([0,38.4]).range([1217,768.5]);
const yR=d3.scaleLinear().domain([0,10]).range([768.5,1217]);
const defs=svg.append("defs");
defs.append("clipPath").attr("id","cT").append("rect").attr("x",L).attr("y",239.5).attr("width",R-L).attr("height",448);
defs.append("clipPath").attr("id","cP").append("rect").attr("x",L).attr("y",768.5).attr("width",R-L).attr("height",448.5);
svg.append("rect").attr("width",2256).attr("height",1402).attr("fill",C.bg);

function panel(y,y0,y1,ticks,cid){
  const g=svg.append("g").attr("clip-path",`url(#${cid})`);
  d3.range(7).forEach(d=>{
    g.append("rect").attr("x",x(d*24+6.3)).attr("width",x(11)-x(0)).attr("y",y0).attr("height",y1-y0).attr("fill",C.band);
  });
  ticks.forEach(v=>{
    if(v===0&&cid==="cP")return;
    g.append("line").attr("x1",L).attr("x2",R).attr("y1",y(v)).attr("y2",y(v))
      .attr("stroke",v===0?"#7d7d7d":"#5e5e5e").attr("stroke-width",v===0?2.4:2).attr("stroke-dasharray",v===0?null:"2,2");
  });
  d3.range(1,7).forEach(d=>{
    g.append("line").attr("x1",x(d*24)).attr("x2",x(d*24)).attr("y1",y0).attr("y2",y1).attr("stroke","#6a6a6a").attr("stroke-width",1.5);
  });
  return g;
}
const gT=panel(yT,239.5,687.5,tempTicks,"cT");
const gP=panel(yP,768.5,1217,precipTicks,"cP");

// rain bars
const barW=8.2;
[[rainTotal,"#14347a",.95],[rainMiddle,"#0c3ca8",1],[rainBright,C.rain,1]].forEach(([arr,col,o])=>{
  gP.append("g").selectAll("rect").data(arr).join("rect")
    .attr("x",(d,i)=>x(i)-barW/2).attr("width",barW)
    .attr("y",yR(0)).attr("height",d=>yR(d)-yR(0)).attr("fill",col).attr("opacity",o);
});

function linesOf(g,rows,hours,y,col,w,op,curve){
  const ln=d3.line().defined(d=>d[1]!==null).x(d=>x(d[0])).y(d=>y(d[1])).curve(curve);
  g.append("g").selectAll("path").data(rows).join("path")
    .attr("d",r=>ln(r.map((v,i)=>[hours[i],v]))).attr("fill","none")
    .attr("stroke",col).attr("stroke-width",w).attr("opacity",op).attr("stroke-linejoin","round");
}
function meanLine(g,row,hours,y,col,curve){
  const ln=d3.line().x((d,i)=>x(hours[i])).y(d=>y(d)).curve(curve);
  g.append("path").attr("d",ln(row)).attr("fill","none").attr("stroke","#111").attr("stroke-width",8).attr("opacity",.8);
  g.append("path").attr("d",ln(row)).attr("fill","none").attr("stroke",col).attr("stroke-width",5);
  g.append("path").attr("d",ln(row)).attr("fill","none").attr("stroke","#fff").attr("stroke-width",4.6).attr("stroke-dasharray","11,9");
}
const cT=d3.curveCatmullRom.alpha(.5), cP=d3.curveMonotoneX;
linesOf(gT,tempGfsMembers,tempHours,yT,C.gfs,2,.95,cT);
linesOf(gT,tempEcMembers,tempHours,yT,C.ec,2,.95,cT);
linesOf(gT,tempHiresMembers,tempHours,yT,C.hr,2,.95,cT);
linesOf(gT,[tempMeteoblue],tempHours,yT,"#000",5,1,cT);
meanLine(gT,tempGfsMean,tempHours,yT,C.gfs,cT);
meanLine(gT,tempEcMean,tempHours,yT,C.ec,cT);

linesOf(gP,precipGfsMembers,precipHours,yP,C.gfs,2.8,.9,cP);
linesOf(gP,precipHiresMembers,precipHours,yP,C.hr,2.4,.9,cP);
linesOf(gP,precipEcMembers,precipHours,yP,C.ec,2.6,.9,cP);
linesOf(gP,[precipMeteoblue],precipHours,yP,"#000",5,1,cP);
meanLine(gP,precipGfsMean,precipHours,yP,C.gfs,cP);
meanLine(gP,precipEcMean,precipHours,yP,C.ec,cP);

// "now" line
[[239.5,687.5],[768.5,1217]].forEach(([a,b])=>{
  svg.append("line").attr("x1",x(9.13)).attr("x2",x(9.13)).attr("y1",a).attr("y2",b).attr("stroke","#fff").attr("stroke-width",2.6).attr("stroke-dasharray","9,6");
});

// inner ticks and axes
const hourTicks=d3.range(3,168,3).filter(h=>h%24!==0);
const labelTicks=d3.range(6,168,6);
const fmt=h=>h%24===0?dayShort[h/24]:String(h%24).padStart(2,"0");
[687.5,1217].forEach(base=>{
  svg.append("g").selectAll("line").data(hourTicks).join("line")
    .attr("x1",d=>x(d)).attr("x2",d=>x(d)).attr("y1",base).attr("y2",d=>base-(d%6===0?19:9))
    .attr("stroke","#c8c8c8").attr("stroke-width",1.6);
  const ax=svg.append("g").attr("transform",`translate(-1.5,${base-1})`)
    .call(d3.axisBottom(x).tickValues(labelTicks).tickFormat(fmt).tickSize(0).tickPadding(8));
  ax.select(".domain").remove();
  ax.selectAll("text").attr("font-size",31.5).attr("font-family",'"DejaVu Sans"').attr("fill",C.txt).attr("dy","0.82em");
  svg.append("line").attr("x1",L).attr("x2",R).attr("y1",base).attr("y2",base).attr("stroke","#bdbdbd").attr("stroke-width",2.6);
});
// clipped remnants of a hidden axis row
svg.append("g").selectAll("line").data(labelTicks).join("line")
  .attr("x1",d=>x(d)-17).attr("x2",d=>x(d)+17).attr("y1",1280.5).attr("y2",1280.5)
  .attr("stroke","#343233").attr("stroke-width",1.5).attr("stroke-dasharray","14,6");

function frame(y0,y1,topDash){
  svg.append("line").attr("x1",L).attr("x2",L).attr("y1",y0).attr("y2",y1).attr("stroke","#bdbdbd").attr("stroke-width",2.2);
  svg.append("line").attr("x1",R).attr("x2",R).attr("y1",y0).attr("y2",y1).attr("stroke","#bdbdbd").attr("stroke-width",2.2);
  svg.append("line").attr("x1",L).attr("x2",R).attr("y1",y0).attr("y2",y0).attr("stroke",topDash?"#d8d8d8":"#bdbdbd").attr("stroke-width",2.2).attr("stroke-dasharray",topDash?"3,5":null);
}
frame(239.5,687.5,false);
frame(768.5,1217,true);

function yAxis(scale,ticks,fill,gen,xpos){
  const a=svg.append("g").attr("transform",`translate(${xpos},0)`).call(gen(scale).tickValues(ticks).tickSize(0).tickPadding(0).tickFormat(d3.format("d")));
  a.select(".domain").remove();
  a.selectAll("text").attr("font-size",32).attr("font-family",'"DejaVu Sans"').attr("fill",fill);
}
yAxis(yT,tempTicks,C.txt,d3.axisLeft,126);
yAxis(yP,precipTicks,C.txt,d3.axisLeft,126);
yAxis(yR,rainTicks,C.axisBlue,d3.axisRight,2153);

const rot=(t,cx,cy,fill)=>svg.append("text").attr("transform",`translate(${cx},${cy}) rotate(-90)`).attr("text-anchor","middle").attr("font-size",34).attr("fill",fill).text(t);
rot("Temperature (°C)",60,466,C.txt);
rot("Accumulated precipitation (mm)",60,993,C.txt);
rot("Precipitation (mm/h)",2227,993,C.axisBlue);

// titles
svg.append("text").attr("x",18).attr("y",54).attr("font-size",45).attr("fill",C.txt).text("Mount Buller");
svg.append("text").attr("x",23).attr("y",116).attr("font-size",37.6).attr("fill",C.txt).text("37.15°S, 146.44°E (1715 m asl)");
dayNames.forEach((d,i)=>{
  const col=i<2?"#b80000":C.txt;
  svg.append("text").attr("x",x(i*24+12)-2).attr("y",185.5).attr("text-anchor","middle").attr("font-size",33.6).attr("fill",col).text(d);
  svg.append("text").attr("x",x(i*24+12)-2).attr("y",225.5).attr("text-anchor","middle").attr("font-size",33.6).attr("fill",col).text(dayDates[i]);
});
// logo
svg.append("text").attr("x",1864).attr("y",82).attr("font-family",'"Open Sans"').attr("font-weight",600).attr("font-size",62)
  .attr("textLength",302).attr("lengthAdjust","spacingAndGlyphs").attr("fill","#1c67a8").text("meteoblue");
svg.append("text").attr("x",2168).attr("y",46).attr("font-family",'"Open Sans"').attr("font-size",12).attr("fill","#1c67a8").text("®");

// legend
const legX=[[163,228,249],[619,684,704],[1130,1194,1214],[1621,1686,1709]];
const legY=[1315,1358.5];
legendEntries.forEach(([t,c,r,k])=>{
  const [a,b,tx]=legX[c], yy=legY[r];
  const base={gfs:C.gfs,gfsMean:C.gfs,ec:C.ec,ecMean:C.ec,hr:C.hr,mb:"#000"}[k];
  const mean=k.endsWith("Mean");
  svg.append("line").attr("x1",a+(mean?2:0)).attr("x2",b-(mean?2:0)).attr("y1",yy).attr("y2",yy).attr("stroke",base).attr("stroke-width",mean?6:5);
  if(mean)svg.append("line").attr("x1",a+10).attr("x2",b-2).attr("y1",yy).attr("y2",yy).attr("stroke","#fff").attr("stroke-width",4).attr("stroke-dasharray","8,8");
  svg.append("text").attr("x",tx).attr("y",yy+12.5).attr("font-size",30.2).attr("fill",C.txt).text(t);
});

// annotation
svg.append("rect").attr("x",893.5).attr("y",917).attr("width",730.5).attr("height",291.5).attr("rx",72).attr("ry",72).attr("fill","none").attr("stroke",C.red).attr("stroke-width",11);
svg.append("text").attr("x",1003).attr("y",892).attr("font-family",'"Liberation Sans"').attr("font-weight",700).attr("font-size",58)
  .attr("textLength",514).attr("lengthAdjust","spacingAndGlyphs")
  .attr("fill",C.red).attr("stroke","#fff").attr("stroke-width",7).attr("stroke-linejoin","round").attr("paint-order","stroke").text("Large Model Spread");
</script></body></html>
